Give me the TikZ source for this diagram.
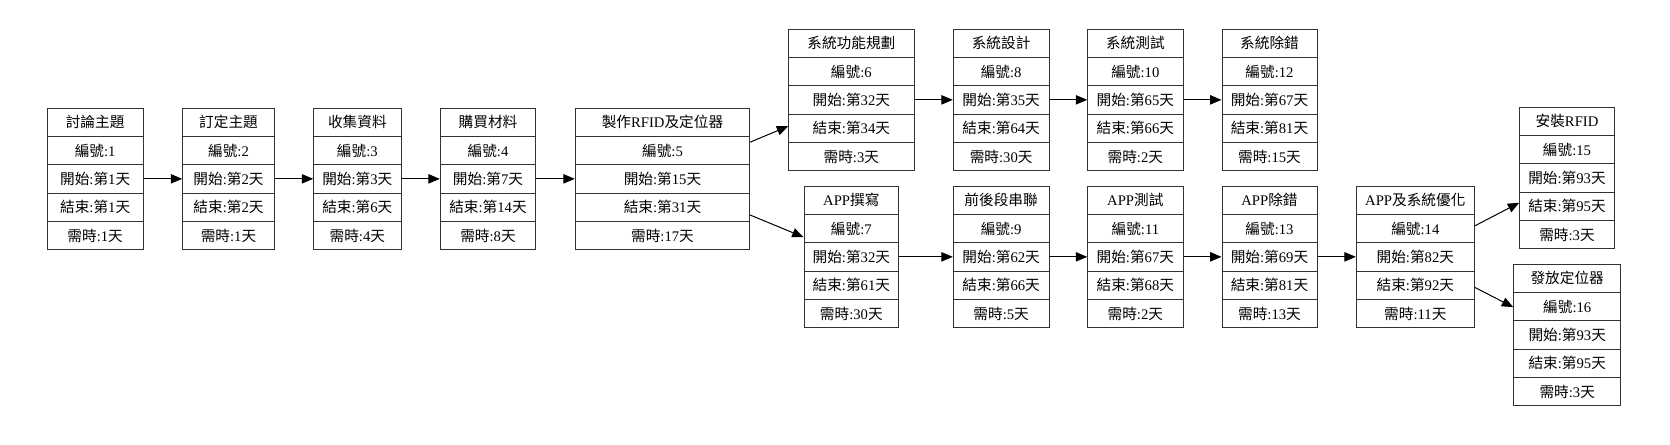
\documentclass[tikz,border=0pt]{standalone}
\usepackage{fontspec}
\setmainfont{Liberation Serif}
\newfontfamily\cjk{Noto Sans CJK TC}
\usetikzlibrary{shapes.multipart,arrows.meta}

\newcommand{\zh}[1]{{\cjk #1}}
\newcommand{\rs}{\rule[-6pt]{0pt}{20.5pt}}
\newcommand{\rows}[4]{\rs\zh{編號}:#1%
  \nodepart{three}\rs\zh{開始}:\zh{第}#2\zh{天}%
  \nodepart{four}\rs\zh{結束}:\zh{第}#3\zh{天}%
  \nodepart{five}\rs\zh{需時}:#4\zh{天}}

\begin{document}
\begin{tikzpicture}[x=0.75pt,y=-0.75pt,
  task/.style={rectangle split, rectangle split parts=5, draw=black!80,
    line width=0.75pt, inner xsep=3pt, inner ysep=0pt,
    font=\fontsize{11}{13}\selectfont},
  edge/.style={-{Triangle[length=8.5pt,width=7pt]}, line width=0.75pt}]
\path[use as bounding box, fill=white] (0,0) rectangle (1670,445);

% first line
\node[task, minimum width=72.2pt] (t1) at (95.15,178.85)
  {\rs\zh{討論主題}\nodepart{two}\rows{1}{1}{1}{1}};
\node[task, minimum width=68.7pt] (t2) at (228.5,178.85)
  {\rs\zh{訂定主題}\nodepart{two}\rows{2}{2}{2}{1}};
\node[task, minimum width=65.5pt] (t3) at (357.35,178.85)
  {\rs\zh{收集資料}\nodepart{two}\rows{3}{3}{6}{4}};
\node[task, minimum width=71.6pt] (t4) at (488,178.85)
  {\rs\zh{購買材料}\nodepart{two}\rows{4}{7}{14}{8}};
\node[task, minimum width=130.8pt] (t5) at (662.5,178.85)
  {\rs\zh{製作}RFID\zh{及定位器}\nodepart{two}\rows{5}{15}{31}{17}};

% system branch
\node[task, minimum width=94pt] (t6) at (851.35,99.85)
  {\rs\zh{系統功能規劃}\nodepart{two}\rows{6}{32}{34}{3}};
\node[task, minimum width=71.8pt] (t8) at (1001.15,99.85)
  {\rs\zh{系統設計}\nodepart{two}\rows{8}{35}{64}{30}};
\node[task, minimum width=71.5pt] (t10) at (1135.35,99.85)
  {\rs\zh{系統測試}\nodepart{two}\rows{10}{65}{66}{2}};
\node[task, minimum width=71.25pt] (t12) at (1269.5,99.85)
  {\rs\zh{系統除錯}\nodepart{two}\rows{12}{67}{81}{15}};

% app branch
\node[task, minimum width=71pt] (t7) at (851.35,256.85)
  {\rs APP\zh{撰寫}\nodepart{two}\rows{7}{32}{61}{30}};
\node[task, minimum width=71.8pt] (t9) at (1001.15,256.85)
  {\rs\zh{前後段串聯}\nodepart{two}\rows{9}{62}{66}{5}};
\node[task, minimum width=71.5pt] (t11) at (1135.35,256.85)
  {\rs APP\zh{測試}\nodepart{two}\rows{11}{67}{68}{2}};
\node[task, minimum width=71.25pt] (t13) at (1269.5,256.85)
  {\rs APP\zh{除錯}\nodepart{two}\rows{13}{69}{81}{13}};
\node[task, minimum width=88.5pt] (t14) at (1415.3,256.85)
  {\rs APP\zh{及系統優化}\nodepart{two}\rows{14}{82}{92}{11}};

% last tasks
\node[task, minimum width=71pt] (t15) at (1567,177.85)
  {\rs\zh{安裝}RFID\nodepart{two}\rows{15}{93}{95}{3}};
\node[task, minimum width=80.25pt] (t16) at (1567.2,334.85)
  {\rs\zh{發放定位器}\nodepart{two}\rows{16}{93}{95}{3}};

\draw[edge] (t1) -- (t2);
\draw[edge] (t2) -- (t3);
\draw[edge] (t3) -- (t4);
\draw[edge] (t4) -- (t5);
\draw[edge] (t5) -- (t6);
\draw[edge] (t5) -- (t7);
\draw[edge] (t6) -- (t8);
\draw[edge] (t8) -- (t10);
\draw[edge] (t10) -- (t12);
\draw[edge] (t7) -- (t9);
\draw[edge] (t9) -- (t11);
\draw[edge] (t11) -- (t13);
\draw[edge] (t13) -- (t14);
\draw[edge] (t14) -- (t15);
\draw[edge] (t14) -- (t16);
\end{tikzpicture}
\end{document}
